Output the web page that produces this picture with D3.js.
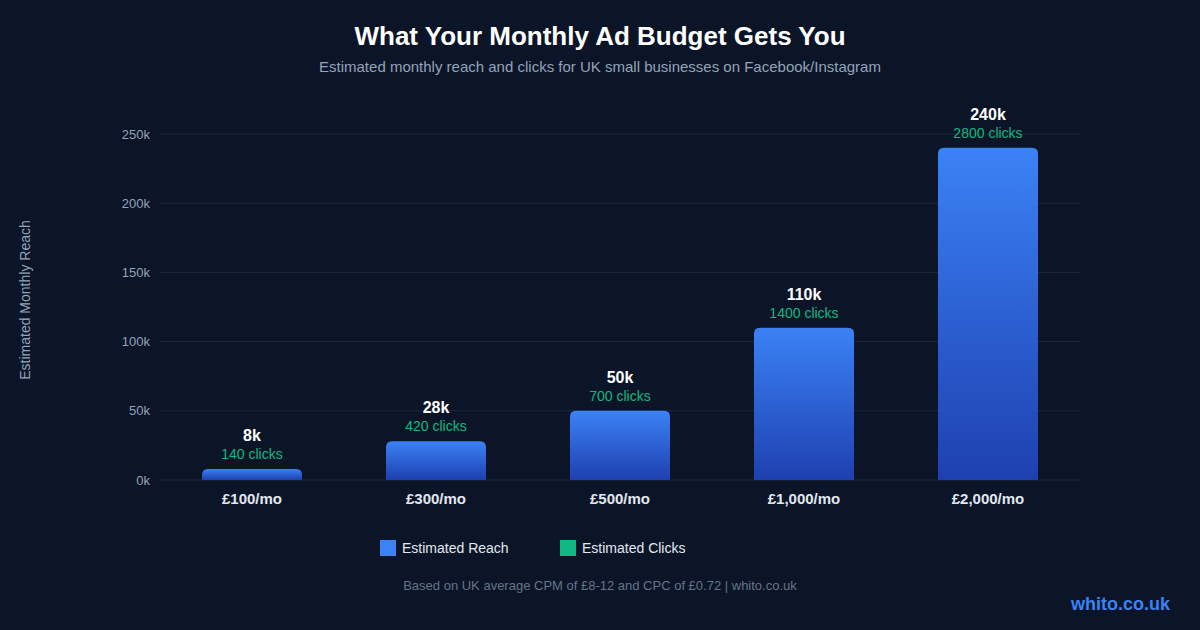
<!DOCTYPE html>
<html><head><meta charset="utf-8">
<script src="https://cdn.jsdelivr.net/npm/d3@7"></script>
<style>html,body{margin:0;padding:0;background:#0b1527;}svg{display:block;}</style>
</head><body><svg id="c" width="1200" height="630"></svg>
<script>
const categories = ["£100/mo","£300/mo","£500/mo","£1,000/mo","£2,000/mo"];
const reach = [8000, 28000, 50000, 110000, 240000];
const reachLabels = ["8k","28k","50k","110k","240k"];
const clicks = [140, 420, 700, 1400, 2800];
const yTicks = [0, 50000, 100000, 150000, 200000, 250000];

(function(){
const W=1200,H=630, mLeft=160, mRight=1080, mTop=134, mBottom=480;
const FONT = "'Liberation Sans', Arial, Helvetica, sans-serif";
const svg = d3.select("#c");
svg.append("rect").attr("width",W).attr("height",H).attr("fill","#0b1527");

const defs = svg.append("defs");
const g = defs.append("linearGradient").attr("id","bg").attr("x1",0).attr("y1",0).attr("x2",0).attr("y2",1);
g.append("stop").attr("offset","0%").attr("stop-color","#3b82f6");
g.append("stop").attr("offset","100%").attr("stop-color","#1e40af");

const x = d3.scaleBand().domain(categories).range([mLeft,mRight]).paddingInner(0.4565).paddingOuter(0.2283);
const y = d3.scaleLinear().domain([0,250000]).range([mBottom,mTop]);

// grid
svg.append("g").selectAll("line").data(yTicks).join("line")
  .attr("x1",mLeft).attr("x2",mRight).attr("y1",d=>y(d)).attr("y2",d=>y(d))
  .attr("stroke","#1e293b").attr("stroke-width",1);

// y axis
const yAxis = d3.axisLeft(y).tickValues(yTicks).tickSize(0).tickPadding(10).tickFormat(d=>(d/1000)+"k");
const ya = svg.append("g").attr("transform",`translate(${mLeft},0)`).call(yAxis);
ya.select(".domain").remove();
ya.selectAll("text").attr("fill","#94a3b8").style("font-family",FONT).style("font-size","13px");

// x axis
const xAxis = d3.axisBottom(x).tickSize(0).tickPadding(13);
const xa = svg.append("g").attr("transform",`translate(0,${mBottom})`).call(xAxis);
xa.select(".domain").remove();
xa.selectAll("text").attr("fill","#e2e8f0").style("font-family",FONT).style("font-size","15px").style("font-weight","bold");

// bars with rounded top
const r = 6;
function barPath(d,i){
  const x0 = x(categories[i]), w = x.bandwidth(), y0 = y(d), y1 = y(0);
  const rr = Math.min(r, (y1-y0));
  return `M${x0},${y1} L${x0},${y0+rr} Q${x0},${y0} ${x0+rr},${y0} L${x0+w-rr},${y0} Q${x0+w},${y0} ${x0+w},${y0+rr} L${x0+w},${y1} Z`;
}
svg.append("g").selectAll("path").data(reach).join("path")
  .attr("d",barPath).attr("fill","url(#bg)");

// labels
svg.append("g").selectAll("text").data(reach).join("text")
  .attr("x",(d,i)=>x(categories[i])+x.bandwidth()/2).attr("y",d=>y(d)-28)
  .attr("text-anchor","middle").attr("fill","#ffffff")
  .style("font-family",FONT).style("font-size","16px").style("font-weight","bold")
  .text((d,i)=>reachLabels[i]);
svg.append("g").selectAll("text").data(clicks).join("text")
  .attr("x",(d,i)=>x(categories[i])+x.bandwidth()/2).attr("y",(d,i)=>y(reach[i])-10)
  .attr("text-anchor","middle").attr("fill","#10b981")
  .style("font-family",FONT).style("font-size","14px")
  .text(d=>d+" clicks");

// y title
svg.append("text").attr("transform","translate(30,300) rotate(-90)")
  .attr("text-anchor","middle").attr("fill","#94a3b8")
  .style("font-family",FONT).style("font-size","14px").text("Estimated Monthly Reach");

// title
svg.append("text").attr("x",600).attr("y",45).attr("text-anchor","middle").attr("fill","#ffffff")
  .style("font-family",FONT).style("font-size","26px").style("font-weight","bold")
  .text("What Your Monthly Ad Budget Gets You");
svg.append("text").attr("x",600).attr("y",72).attr("text-anchor","middle").attr("fill","#94a3b8")
  .style("font-family",FONT).style("font-size","15px")
  .text("Estimated monthly reach and clicks for UK small businesses on Facebook/Instagram");

// legend
const legend = [{t:"Estimated Reach",c:"#3b82f6",x:380},{t:"Estimated Clicks",c:"#10b981",x:560}];
const lg = svg.append("g").selectAll("g").data(legend).join("g").attr("transform",d=>`translate(${d.x},540)`);
lg.append("rect").attr("width",16).attr("height",16).attr("fill",d=>d.c);
lg.append("text").attr("x",22).attr("y",13).attr("fill","#e2e8f0")
  .style("font-family",FONT).style("font-size","14px").text(d=>d.t);

// footer
svg.append("text").attr("x",600).attr("y",590).attr("text-anchor","middle").attr("fill","#64748b")
  .style("font-family",FONT).style("font-size","13px")
  .text("Based on UK average CPM of £8-12 and CPC of £0.72 | whito.co.uk");
svg.append("text").attr("x",1170).attr("y",610).attr("text-anchor","end").attr("fill","#3b82f6")
  .style("font-family",FONT).style("font-size","18px").style("font-weight","bold")
  .text("whito.co.uk");
})();
</script></body></html>
